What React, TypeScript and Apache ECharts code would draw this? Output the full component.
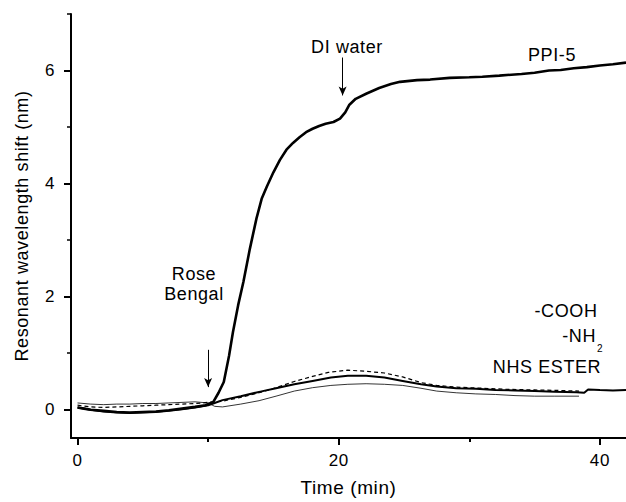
import React, { useEffect, useRef } from "react";
import * as echarts from "echarts";

// PPI-5 (thick solid)
const ppi5: [number, number][] = [
  [0, 0.04], [0.5, 0.02], [1, 0.0], [2, -0.02], [3, -0.04], [4, -0.05], [5, -0.04], [6, -0.03],
  [7, -0.01], [8, 0.02], [9, 0.05], [9.8, 0.08], [10.4, 0.14], [10.8, 0.3], [11.2, 0.49],
  [11.6, 0.95], [11.9, 1.37], [12.3, 1.85], [12.7, 2.26], [13.2, 2.85], [13.7, 3.38],
  [14.1, 3.73], [14.5, 3.95], [15, 4.2], [15.5, 4.42], [16, 4.6], [16.5, 4.72], [17, 4.82],
  [17.5, 4.91], [18, 4.97], [18.5, 5.02], [19, 5.06], [19.6, 5.09], [20.1, 5.15], [20.5, 5.26],
  [20.8, 5.39], [21.3, 5.5], [22.1, 5.59], [23.1, 5.69], [24, 5.76], [24.7, 5.8], [26, 5.83],
  [27, 5.84], [28.5, 5.87], [30, 5.88], [31, 5.89], [32.3, 5.91], [34, 5.94], [35, 5.96],
  [36.1, 6.0], [37, 6.01], [38, 6.04], [39, 6.06], [40, 6.09], [41, 6.11], [42, 6.14],
];

// NHS ESTER (thick solid, lower)
const nhsEster: [number, number][] = [
  [0, 0.04], [1, 0.0], [2, -0.03], [3, -0.05], [4, -0.06], [5, -0.05], [6, -0.04], [7, -0.02],
  [8, 0.01], [9, 0.04], [10, 0.08], [10.5, 0.12], [11.1, 0.17], [12.5, 0.24], [14, 0.32],
  [15.2, 0.38], [16.6, 0.45], [18, 0.51], [19.4, 0.57], [20.7, 0.6], [22.1, 0.6], [23.5, 0.57],
  [24.9, 0.51], [26.3, 0.45], [27.5, 0.41], [29, 0.38], [30.5, 0.37], [32, 0.35], [33.5, 0.34],
  [35, 0.33], [36.5, 0.32], [38.2, 0.31], [38.8, 0.3], [39.1, 0.36], [40, 0.35], [41, 0.34],
  [42, 0.35],
];

// -COOH (dashed)
const cooh: [number, number][] = [
  [0, 0.08], [1, 0.05], [2, 0.04], [3, 0.05], [4, 0.06], [5, 0.07], [6, 0.08], [7, 0.09],
  [8, 0.1], [9, 0.11], [10, 0.13], [11.1, 0.15], [12.5, 0.22], [13.9, 0.3], [15.2, 0.39],
  [16.6, 0.5], [18, 0.59], [19.2, 0.66], [20.7, 0.7], [22.1, 0.68], [23.5, 0.65], [24.9, 0.58],
  [26.3, 0.48], [27.5, 0.43], [29, 0.4], [31, 0.38], [33, 0.36], [35, 0.35], [37, 0.34],
  [38.4, 0.33],
];

// -NH2 (thin solid)
const nh2: [number, number][] = [
  [0, 0.12], [1, 0.1], [2, 0.09], [3, 0.1], [4, 0.1], [5, 0.11], [6, 0.11], [7, 0.12],
  [8, 0.13], [9, 0.14], [10, 0.12], [10.5, 0.06], [11.1, 0.05], [12.5, 0.1], [13.9, 0.16],
  [15.2, 0.24], [16.6, 0.33], [18, 0.39], [19.4, 0.43], [20.7, 0.45], [22.1, 0.46],
  [23.5, 0.45], [24.9, 0.43], [26.3, 0.38], [27.5, 0.33], [29, 0.3], [30.5, 0.28], [32, 0.27],
  [33.5, 0.25], [35, 0.24], [36.5, 0.24], [38.4, 0.24],
];

// arrows: [x, yStart, yEnd]
const arrowRose = [10, 1.06, 0.4];
const arrowWater = [20.3, 6.23, 5.56];

const xMajorTicks = [0, 20, 40];
const xMinorTicks = [10, 30];
const yMajorTicks = [0, 2, 4, 6];
const yMinorTicks = [1, 3, 5, 7];

const FONT = "'Liberation Sans', Arial, Helvetica, sans-serif";

export default function App() {
  const ref = useRef<HTMLDivElement>(null);
  useEffect(() => {
    if (!ref.current) return;
    const chart = echarts.init(ref.current, null, { renderer: "svg" });
    const axisBase = {
      min: -0.5,
      splitLine: { show: false },
    };
    const line = (name: string, data: [number, number][], width: number, type: any = "solid") => ({
      name,
      type: "line",
      data,
      showSymbol: false,
      symbol: "none",
      xAxisIndex: 0,
      yAxisIndex: 0,
      lineStyle: { color: "#000", width, type },
      z: 3,
    });
    const textStyle = { fontFamily: FONT, fontSize: 18, fill: "#000" };
    chart.setOption({
      animation: false,
      backgroundColor: "#fff",
      grid: { left: 71, right: 0, top: 14, bottom: 61, containLabel: false },
      xAxis: [
        {
          ...axisBase,
          type: "value",
          max: 42,
          position: "bottom",
          axisLine: { show: true, onZero: false, lineStyle: { color: "#000", width: 2 } },
          axisTick: { show: true, customValues: xMajorTicks, length: 7, lineStyle: { width: 2, color: "#000" } },
          axisLabel: { customValues: xMajorTicks, color: "#000", fontSize: 17, fontFamily: FONT, margin: 14 },
          name: "Time (min)",
          nameLocation: "middle",
          nameGap: 40,
          nameTextStyle: { color: "#000", fontSize: 19, fontFamily: FONT },
        },
        {
          ...axisBase,
          type: "value",
          max: 42,
          position: "bottom",
          axisLine: { show: false, onZero: false },
          axisTick: { show: true, customValues: xMinorTicks, length: 4, lineStyle: { width: 2, color: "#000" } },
          axisLabel: { show: false },
        },
      ],
      yAxis: [
        {
          ...axisBase,
          type: "value",
          max: 7,
          position: "left",
          axisLine: { show: true, onZero: false, lineStyle: { color: "#000", width: 2 } },
          axisTick: { show: true, customValues: yMajorTicks, length: 7, lineStyle: { width: 2, color: "#000" } },
          axisLabel: { customValues: yMajorTicks, color: "#000", fontSize: 17, fontFamily: FONT, margin: 16 },
          name: "Resonant wavelength shift (nm)",
          nameLocation: "middle",
          nameGap: 40,
          nameTextStyle: { color: "#000", fontSize: 18, fontFamily: FONT },
        },
        {
          ...axisBase,
          type: "value",
          max: 7,
          position: "left",
          axisLine: { show: false, onZero: false },
          axisTick: { show: true, customValues: yMinorTicks, length: 4, lineStyle: { width: 1.5, color: "#000" } },
          axisLabel: { show: false },
        },
      ],
      series: [
        {
          ...line("PPI-5", ppi5, 2.6),
          markLine: {
            silent: true,
            symbol: ["none", "arrow"],
            symbolSize: [6, 9],
            label: { show: false },
            lineStyle: { color: "#000", width: 1, type: "solid" },
            data: [
              [{ coord: [arrowRose[0], arrowRose[1]] }, { coord: [arrowRose[0], arrowRose[2]] }],
              [{ coord: [arrowWater[0], arrowWater[1]] }, { coord: [arrowWater[0], arrowWater[2]] }],
            ],
          },
        },
        line("NHS ESTER", nhsEster, 2),
        line("-COOH", cooh, 1.2, [4, 3]),
        line("-NH2", nh2, 0.8),
      ],
      graphic: [
        { type: "text", x: 194, y: 284, style: { ...textStyle, text: "Rose\nBengal", align: "center", verticalAlign: "middle", lineHeight: 20 } },
        { type: "text", x: 347, y: 47, style: { ...textStyle, text: "DI water", align: "center", verticalAlign: "middle" } },
        { type: "text", x: 552, y: 55, style: { ...textStyle, text: "PPI-5", align: "center", verticalAlign: "middle" } },
        { type: "text", x: 566, y: 311, style: { ...textStyle, text: "-COOH", align: "center", verticalAlign: "middle" } },
        { type: "text", x: 596, y: 336, style: { ...textStyle, text: "-NH", align: "right", verticalAlign: "middle" } },
        { type: "text", x: 597, y: 348, style: { ...textStyle, fontSize: 10, text: "2", align: "left", verticalAlign: "middle" } },
        { type: "text", x: 547, y: 367, style: { ...textStyle, text: "NHS ESTER", align: "center", verticalAlign: "middle" } },
      ],
    });
    return () => chart.dispose();
  }, []);
  return (
    <div
      ref={ref}
      style={{ position: "fixed", left: 0, top: 0, width: 626, height: 502, letterSpacing: "0.6px" }}
    />
  );
}
